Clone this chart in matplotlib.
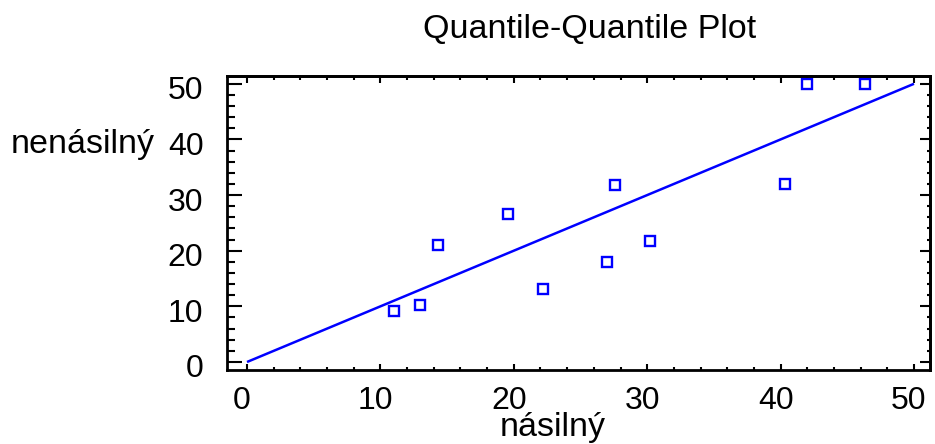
import numpy as np
import matplotlib.pyplot as plt
import matplotlib.transforms as mtransforms
from matplotlib.ticker import MultipleLocator

plt.rcParams['font.family'] = ['Liberation Sans', 'DejaVu Sans']

# sample quantiles
nasilny = [11.0, 13.0, 14.3, 19.6, 22.2, 27.0, 27.6, 30.2, 40.3, 42.0, 46.3]
nenasilny = [9.2, 10.2, 21.0, 26.6, 13.1, 17.9, 31.8, 21.8, 32.0, 49.9, 49.9]
ref_line = [0, 50]

W, H = 935, 444
FS = 24.5
TS = 23
fig = plt.figure(figsize=(W / 100, H / 100), dpi=100)
ax = fig.add_axes([227 / W, 1 - 370 / H, (930 - 227) / W, (370 - 76) / H])

ax.plot(ref_line, ref_line, color='#0000ff', lw=1.8, solid_capstyle='butt')
ax.plot(nasilny, nenasilny, 's', ms=7.5, mfc='none', mec='#0000ff', mew=1.7)

ax.set_xlim(-1.5, 51.2)
ax.set_ylim(-1.44, 51.4)

for sp in ax.spines.values():
    sp.set_linewidth(2)

for a in (ax.xaxis, ax.yaxis):
    a.set_major_locator(MultipleLocator(10))
    a.set_minor_locator(MultipleLocator(2))

ax.tick_params(axis='x', which='major', direction='in', length=4.5, width=1.5,
               labelsize=TS, pad=11.5, top=False)
ax.tick_params(axis='x', which='minor', direction='in', length=2.2, width=1.5, top=False)
ax.tick_params(axis='y', which='major', direction='in', length=10.8, width=1.5,
               labelsize=TS, pad=17, right=False)
ax.tick_params(axis='y', which='minor', direction='in', length=5.8, width=1.5, right=False)

# top and right ticks (different lengths)
top = ax.secondary_xaxis('top')
top.xaxis.set_major_locator(MultipleLocator(10))
top.xaxis.set_minor_locator(MultipleLocator(2))
top.tick_params(which='major', direction='in', length=5, width=1.5, labeltop=False)
top.tick_params(which='minor', direction='in', length=3.2, width=1.5)
top.spines['top'].set_linewidth(2)

right = ax.secondary_yaxis('right')
right.yaxis.set_major_locator(MultipleLocator(10))
right.yaxis.set_minor_locator(MultipleLocator(2))
right.tick_params(which='major', direction='in', length=7.2, width=1.5, labelright=False)
right.tick_params(which='minor', direction='in', length=2.2, width=1.5)
right.spines['right'].set_linewidth(2)

# labels sit slightly left / below their ticks in the original
dx = mtransforms.ScaledTranslation(-5 / 100, 0, fig.dpi_scale_trans)
for lab in ax.get_xticklabels():
    lab.set_transform(lab.get_transform() + dx)
dy = mtransforms.ScaledTranslation(0, -4 / 100, fig.dpi_scale_trans)
for lab in ax.get_yticklabels():
    lab.set_transform(lab.get_transform() + dy)

fig.text(590 / W, 1 - 38 / H, 'Quantile-Quantile Plot', ha='center', va='baseline', fontsize=FS)
fig.text(155 / W, 1 - 153 / H, 'nenásilný', ha='right', va='baseline', fontsize=FS)
fig.text(553 / W, 1 - 436 / H, 'násilný', ha='center', va='baseline', fontsize=FS)

fig.savefig('out.png', dpi=100)
